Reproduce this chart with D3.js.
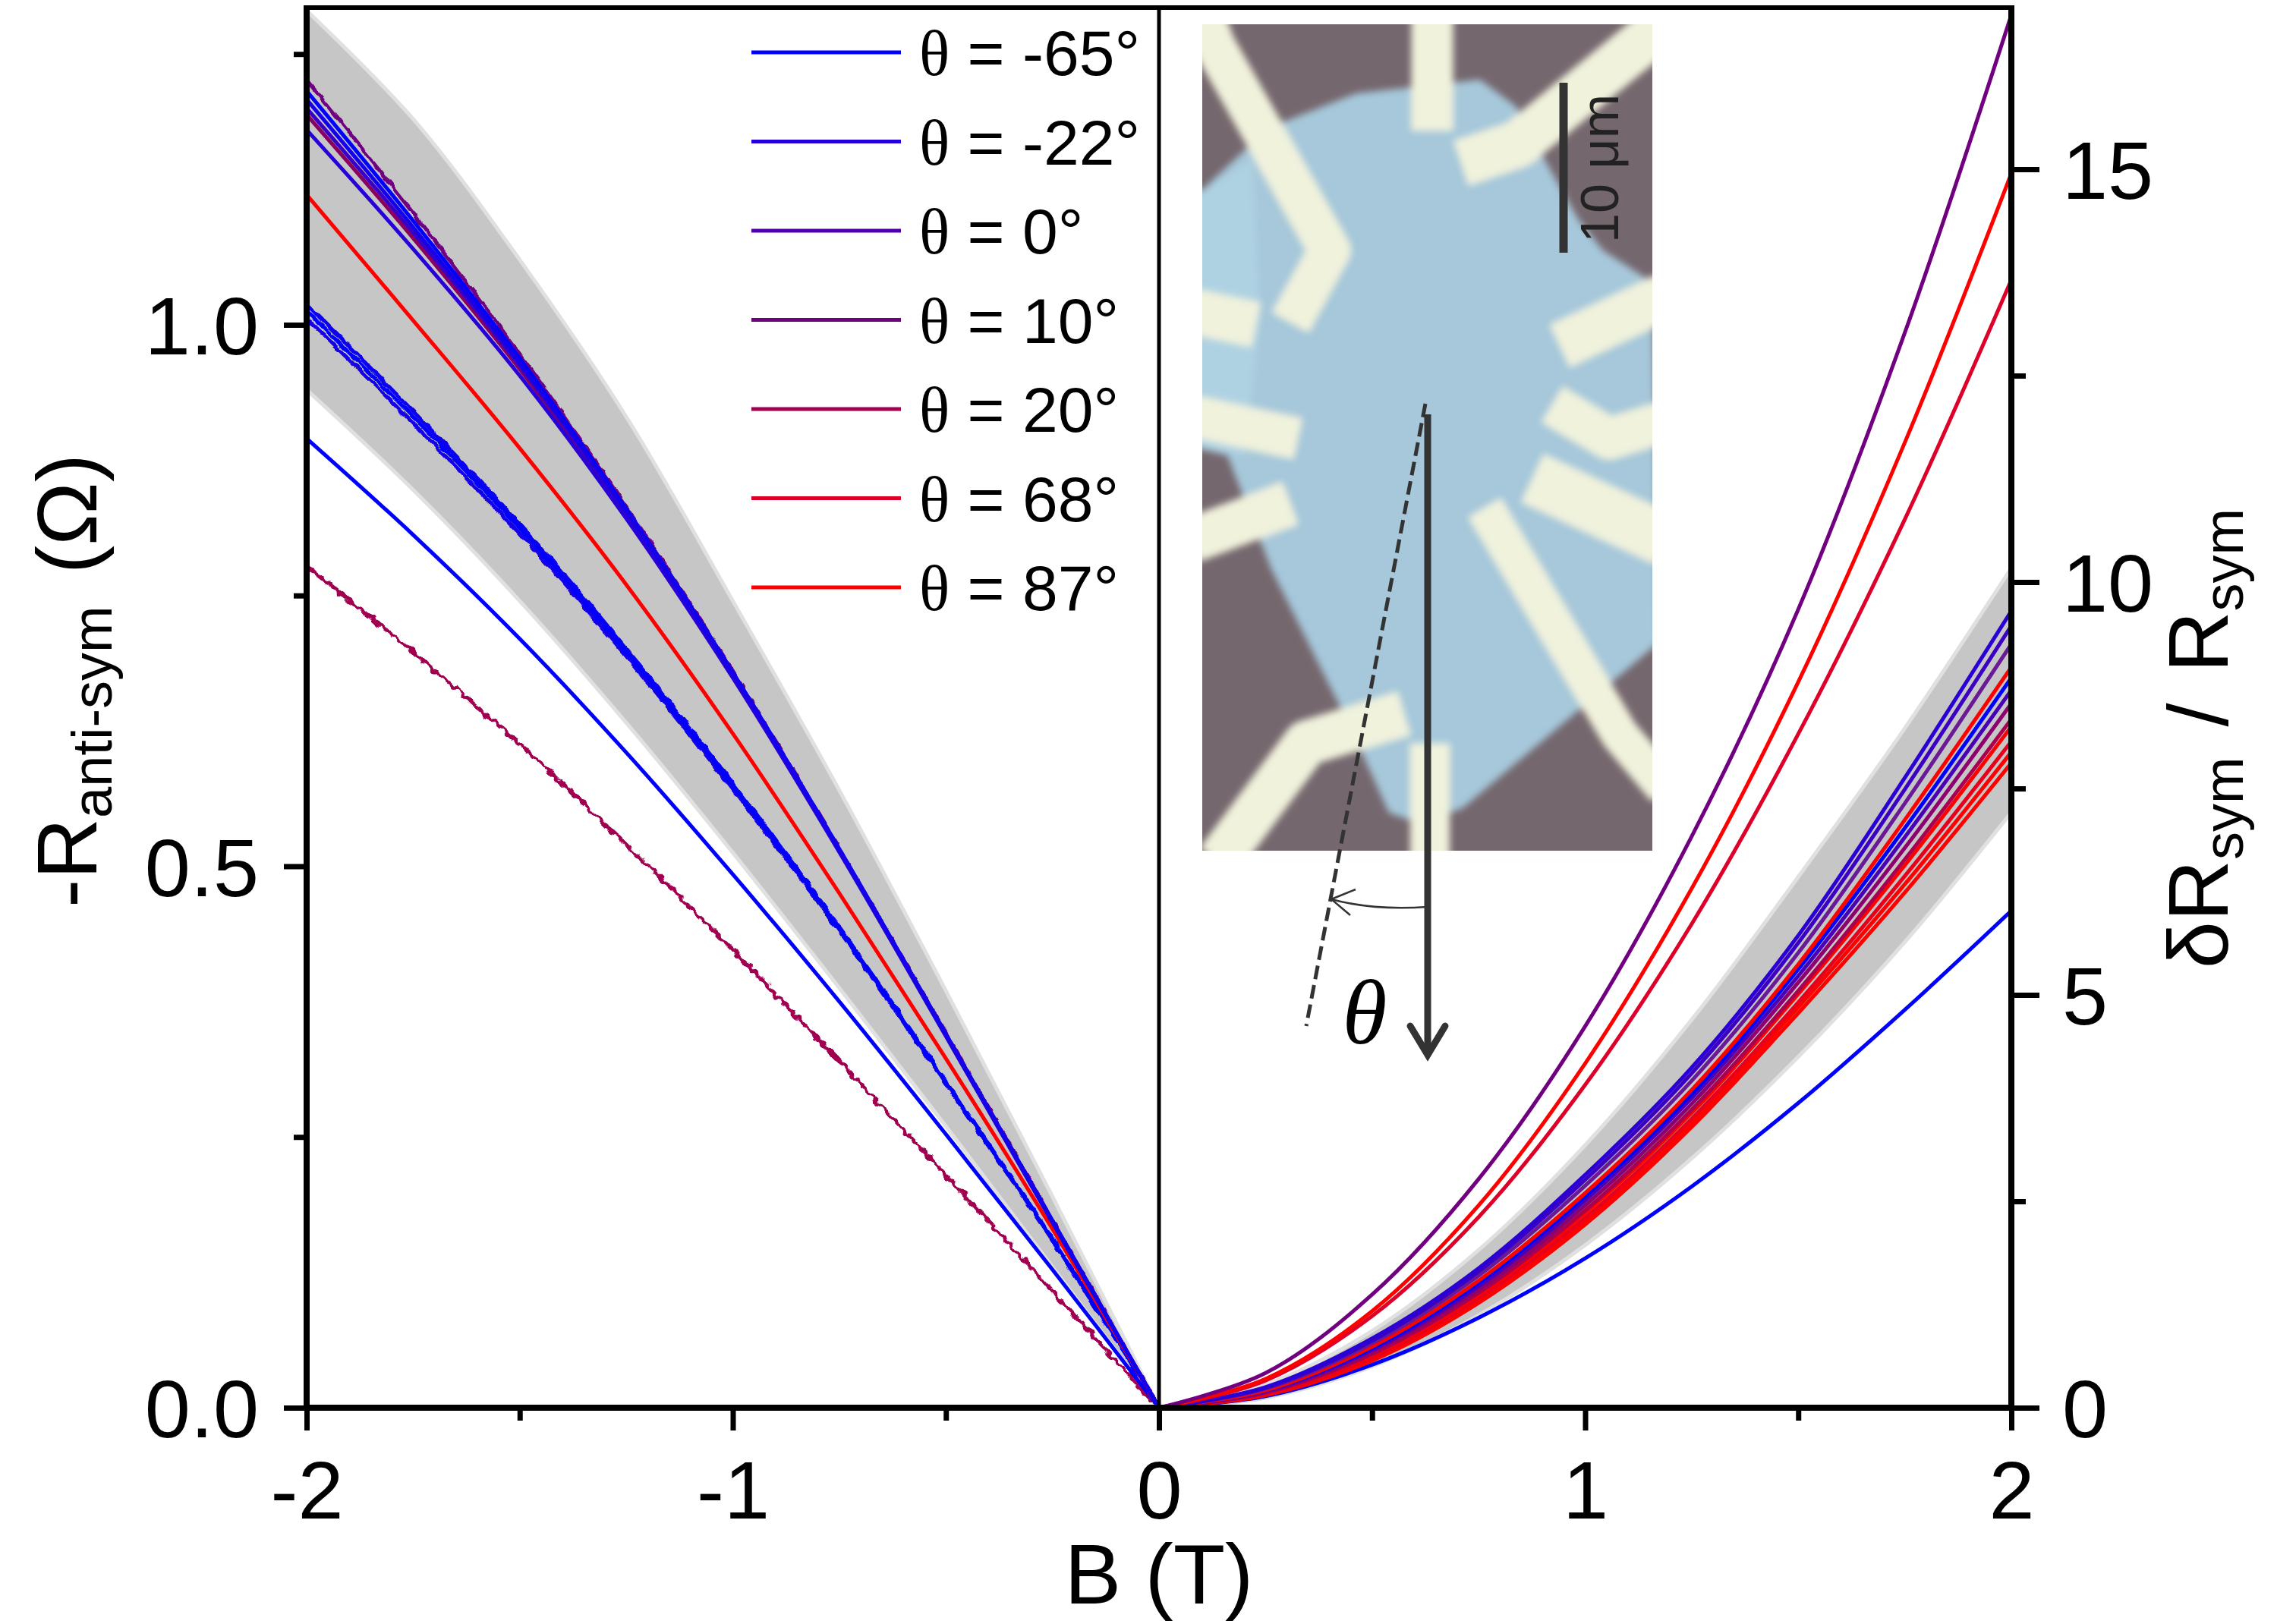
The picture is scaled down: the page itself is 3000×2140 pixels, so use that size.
<!DOCTYPE html>
<html>
<head>
<meta charset="utf-8">
<script src="https://cdn.jsdelivr.net/npm/d3@7"></script>
<style>
  body { margin: 0; background: #fff; }
  svg { display: block; }
</style>
</head>
<body>
<svg id="fig" width="3000" height="2140"></svg>
<script>
const bNeg = [-2, -1.75, -1.5, -1.25, -1, -0.75, -0.5, -0.25, 0];
const bPos = [0, 0.25, 0.5, 0.75, 1, 1.25, 1.5, 1.75, 2];

const xMajor = [-2, -1, 0, 1, 2];
const xMinor = [-1.5, -0.5, 0.5, 1.5];
const yLeftMajor = [0, 0.5, 1.0];
const yLeftMinor = [0.25, 0.75, 1.25];
const yRightMajor = [0, 5, 10, 15];
const yRightMinor = [2.5, 7.5, 12.5];

const legendLabels = ['-65°', '-22°', '0°', '10°', '20°', '68°', '87°'];
const legendColors = ['#0000ff', '#2200dd', '#5000b0', '#70007f', '#a0004f', '#dd0028', '#ff0000'];

// Left half: -R_anti-sym (Ω) at bNeg
const bandNegUpper = [1.29, 1.19, 1.06, 0.915, 0.745, 0.57, 0.385, 0.195, 0];
const bandNegLower = [0.94, 0.8475, 0.745, 0.6325, 0.5125, 0.3875, 0.26, 0.13, 0];
const anti20 = [0.7775, 0.6975, 0.6125, 0.52, 0.4225, 0.32, 0.215, 0.1075, 0];
const antiM65 = [0.895, 0.806, 0.71, 0.605, 0.4925, 0.375, 0.2525, 0.1275, 0];
const antiBundleA = [1.019, 0.920, 0.816, 0.701, 0.576, 0.444, 0.301, 0.156, 0];
const antiBundleB = [1.013, 0.915, 0.812, 0.698, 0.574, 0.442, 0.300, 0.155, 0];
const antiBundleC = [1.006, 0.909, 0.807, 0.694, 0.571, 0.440, 0.299, 0.154, 0];
const anti87 = [1.12, 1.004, 0.886, 0.76, 0.6225, 0.475, 0.3225, 0.165, 0];
const antiTopA = [1.226, 1.103, 0.973, 0.832, 0.680, 0.516, 0.346, 0.173, 0];
const antiTopB = [1.216, 1.096, 0.969, 0.830, 0.679, 0.516, 0.345, 0.173, 0];
const antiTopC = [1.208, 1.090, 0.965, 0.828, 0.678, 0.515, 0.345, 0.172, 0];
const antiTopD = [1.200, 1.085, 0.962, 0.826, 0.677, 0.515, 0.344, 0.172, 0];
const antiTopE = [1.194, 1.080, 0.959, 0.824, 0.676, 0.514, 0.344, 0.172, 0];
const antiTopF = [1.180, 1.070, 0.953, 0.821, 0.674, 0.513, 0.343, 0.171, 0];

// Right half: δR_sym / R_sym at bPos
const bandPosUpper = [0, 0.28, 0.93, 1.91, 3.18, 4.70, 6.43, 8.23, 10.17];
const bandPosLower = [0, 0.12, 0.50, 1.12, 1.97, 3.02, 4.25, 5.64, 7.21];
const symM65 = [0, 0.14, 0.52, 1.09, 1.81, 2.68, 3.69, 4.82, 6.02];
const symC01 = [0, 0.25, 0.84, 1.69, 2.82, 4.12, 5.72, 7.63, 9.65];
const symC02 = [0, 0.24, 0.81, 1.65, 2.76, 4.05, 5.63, 7.49, 9.47];
const symC03 = [0, 0.23, 0.78, 1.60, 2.69, 3.96, 5.51, 7.32, 9.25];
const symC04 = [0, 0.21, 0.74, 1.54, 2.60, 3.85, 5.37, 7.12, 8.97];
const symC05 = [0, 0.21, 0.72, 1.51, 2.56, 3.80, 5.31, 7.02, 8.84];
const symC06 = [0, 0.20, 0.70, 1.47, 2.51, 3.75, 5.23, 6.91, 8.69];
const symC07 = [0, 0.19, 0.68, 1.43, 2.45, 3.68, 5.15, 6.78, 8.53];
const symC08 = [0, 0.18, 0.65, 1.39, 2.39, 3.61, 5.05, 6.64, 8.34];
const symC09 = [0, 0.17, 0.64, 1.37, 2.36, 3.57, 5.01, 6.57, 8.25];
const symC10 = [0, 0.16, 0.61, 1.33, 2.30, 3.50, 4.91, 6.44, 8.07];
const symC11 = [0, 0.16, 0.59, 1.30, 2.26, 3.45, 4.85, 6.34, 7.94];
const symC12 = [0, 0.15, 0.57, 1.27, 2.22, 3.40, 4.78, 6.24, 7.81];
const symHighA = [0, 0.33, 1.11, 2.31, 3.91, 5.86, 8.16, 10.76, 13.66];
const symHighB = [0, 0.35, 1.17, 2.45, 4.17, 6.29, 8.79, 11.69, 14.95];
const symHighC = [0, 0.42, 1.37, 2.77, 4.62, 6.92, 9.67, 13.02, 16.87];

const antiSeries = [
	{ v: anti20, color: '#a0004f', noise: 'jitter-strong' },
	{ v: antiM65, color: '#0000ff' },
	{ v: antiBundleC, color: '#1800e5', noise: 'jitter' },
	{ v: antiBundleA, color: '#0a00f0', noise: 'jitter' },
	{ v: antiBundleB, color: '#0000ff', noise: 'jitter' },
	{ v: anti87, color: '#ff0000' },
	{ v: antiTopA, color: '#70007f', noise: 'jitter' },
	{ v: antiTopE, color: '#880060' },
	{ v: antiTopD, color: '#3a00c5' },
	{ v: antiTopF, color: '#2800d8' },
	{ v: antiTopB, color: '#0000ff' },
	{ v: antiTopC, color: '#1400ea' }
];
const symSeries = [
	{ v: symM65, color: '#0000ff' },
	{ v: symC12, color: '#ff0000' },
	{ v: symC11, color: '#ff0000' },
	{ v: symC10, color: '#e8001a' },
	{ v: symC09, color: '#ff0000' },
	{ v: symC08, color: '#aa0050' },
	{ v: symC07, color: '#8c0070' },
	{ v: symC06, color: '#4a00b5' },
	{ v: symC05, color: '#0000ff' },
	{ v: symC04, color: '#ff0000' },
	{ v: symC03, color: '#6a1a95' },
	{ v: symC02, color: '#3c00c3' },
	{ v: symC01, color: '#2a00d5' },
	{ v: symHighA, color: '#dd0028' },
	{ v: symHighB, color: '#ff0000' },
	{ v: symHighC, color: '#70007f' }
];

const svg = d3.select('#fig');
const sans = "'Liberation Sans', Arial, sans-serif";
const serif = "'Liberation Serif', 'Times New Roman', serif";
const plot = { left: 404, right: 2650, top: 10, bottom: 1855 };

const x = d3.scaleLinear().domain([-2, 2]).range([plot.left, plot.right]);
const yL = d3.scaleLinear().domain([0, 1.2929]).range([plot.bottom, plot.top]);
const yR = d3.scaleLinear().domain([0, 16.958]).range([plot.bottom, plot.top]);

const defs = svg.append('defs');
defs.append('clipPath').attr('id', 'plot-clip')
	.append('rect')
	.attr('x', plot.left).attr('y', plot.top)
	.attr('width', plot.right - plot.left).attr('height', plot.bottom - plot.top);
// slight jitter for the noisier measured traces
[['jitter', 7, 0.09], ['jitter-strong', 12, 0.12]].forEach(([id, scale, freq]) => {
	const f = defs.append('filter').attr('id', id)
		.attr('filterUnits', 'userSpaceOnUse').attr('x', 0).attr('y', 0).attr('width', 3000).attr('height', 2140);
	f.append('feTurbulence').attr('type', 'fractalNoise').attr('baseFrequency', freq).attr('numOctaves', 1).attr('seed', 3).attr('result', 'n');
	f.append('feDisplacementMap').attr('in', 'SourceGraphic').attr('in2', 'n').attr('scale', scale)
		.attr('xChannelSelector', 'R').attr('yChannelSelector', 'G');
});

const curve = d3.curveCatmullRom.alpha(0.5);
const g = svg.append('g').attr('clip-path', 'url(#plot-clip)');

// Grey uncertainty bands
const bandNeg = bNeg.map((b, i) => ({ b, lo: bandNegLower[i], hi: bandNegUpper[i] }));
const bandPos = bPos.map((b, i) => ({ b, lo: bandPosLower[i], hi: bandPosUpper[i] }));
g.append('path')
	.attr('d', d3.area().curve(curve).x(d => x(d.b)).y0(d => yL(d.lo)).y1(d => yL(d.hi))(bandNeg))
	.attr('fill', '#c6c6c6').attr('stroke', '#e0e0e0').attr('stroke-width', 5);
g.append('path')
	.attr('d', d3.area().curve(curve).x(d => x(d.b)).y0(d => yR(d.lo)).y1(d => yR(d.hi))(bandPos))
	.attr('fill', '#c6c6c6').attr('stroke', '#e0e0e0').attr('stroke-width', 5);

// Curves
const lineNeg = d3.line().curve(curve).x((v, i) => x(bNeg[i])).y(v => yL(v));
const linePos = d3.line().curve(curve).x((v, i) => x(bPos[i])).y(v => yR(v));
antiSeries.forEach(s => {
	g.append('g').attr('filter', s.noise ? 'url(#' + s.noise + ')' : null)
		.append('path').attr('d', lineNeg(s.v))
		.attr('fill', 'none').attr('stroke', s.color).attr('stroke-width', 5);
});
symSeries.forEach(s => {
	g.append('path').attr('d', linePos(s.v))
		.attr('fill', 'none').attr('stroke', s.color).attr('stroke-width', 5);
});

// Inset: optical image of the device (drawn approximation)
const photo = { x: 1584, y: 32, w: 593, h: 1089 };
defs.append('clipPath').attr('id', 'photo-clip').append('rect')
	.attr('x', photo.x).attr('y', photo.y).attr('width', photo.w).attr('height', photo.h);
defs.append('filter').attr('id', 'soft').attr('x', '-5%').attr('y', '-5%').attr('width', '110%').attr('height', '110%')
	.append('feGaussianBlur').attr('stdDeviation', 5);
const ph = svg.append('g').attr('clip-path', 'url(#photo-clip)');
ph.append('rect').attr('x', photo.x).attr('y', photo.y).attr('width', photo.w).attr('height', photo.h)
	.attr('fill', '#75676e');
const phs = ph.append('g').attr('filter', 'url(#soft)');
const flake = [[1584, 250], [1672, 168], [1787, 123], [1950, 105], [1997, 140], [2031, 203], [2080, 290],
	[2112, 330], [2177, 372], [2185, 847], [1927, 1065], [1870, 1085], [1830, 1071], [1778, 956],
	[1675, 750], [1617, 600], [1575, 590], [1575, 250]];
phs.append('path').attr('d', d3.line()(flake) + 'Z').attr('fill', '#a6c8da');
phs.append('path').attr('d', d3.line()([[1575, 260], [1650, 210], [1660, 420], [1640, 600], [1575, 590]]) + 'Z')
	.attr('fill', '#b4d6e6').attr('opacity', 0.7);
const electrodes = [
	{ p: [[1887, 20], [1887, 172]], w: 55 },
	{ p: [[1585, 20], [1600, 60], [1752, 330], [1700, 425]], w: 55 },
	{ p: [[2195, 30], [2000, 190], [1925, 215]], w: 62 },
	{ p: [[1570, 410], [1655, 428]], w: 60 },
	{ p: [[2055, 456], [2195, 390]], w: 62 },
	{ p: [[2045, 533], [2120, 578], [2195, 555]], w: 55 },
	{ p: [[1570, 548], [1710, 578]], w: 55 },
	{ p: [[1570, 712], [1700, 663]], w: 60 },
	{ p: [[1956, 669], [2134, 968], [2195, 1040]], w: 50 },
	{ p: [[2019, 630], [2195, 712]], w: 70 },
	{ p: [[1884, 980], [1884, 1135]], w: 52 },
	{ p: [[1605, 1135], [1721, 979], [1850, 940]], w: 60 }
];
electrodes.forEach(e => {
	phs.append('path').attr('d', d3.line()(e.p))
		.attr('fill', 'none').attr('stroke', '#f0f2dc').attr('stroke-width', e.w)
		.attr('stroke-linejoin', 'round');
});

// Scale bar
svg.append('line').attr('x1', 2060).attr('x2', 2060).attr('y1', 109).attr('y2', 333)
	.attr('stroke', '#333').attr('stroke-width', 11);
svg.append('text').attr('transform', 'translate(2132,222) rotate(-90)')
	.attr('text-anchor', 'middle').attr('font-family', sans).attr('font-size', 70).attr('fill', '#222')
	.text('10 μm');

// Angle annotation
const ink = '#333';
svg.append('line').attr('x1', 1878).attr('y1', 532).attr('x2', 1721).attr('y2', 1352)
	.attr('stroke', ink).attr('stroke-width', 5).attr('stroke-dasharray', '18 8');
svg.append('line').attr('x1', 1881).attr('y1', 546).attr('x2', 1881).attr('y2', 1388)
	.attr('stroke', ink).attr('stroke-width', 9);
svg.append('path').attr('d', 'M1858,1352 L1881,1390 L1904,1352')
	.attr('fill', 'none').attr('stroke', ink).attr('stroke-width', 9).attr('stroke-linecap', 'round');
svg.append('path').attr('d', 'M1881,1195 Q1810,1200 1754,1185')
	.attr('fill', 'none').attr('stroke', ink).attr('stroke-width', 2.5);
svg.append('path').attr('d', 'M1786,1172 L1754,1185 L1779,1206')
	.attr('fill', 'none').attr('stroke', ink).attr('stroke-width', 2.5);
svg.append('text').attr('x', 1798).attr('y', 1375).attr('text-anchor', 'middle')
	.attr('font-family', serif).attr('font-style', 'italic').attr('font-size', 120).attr('fill', '#000')
	.text('θ');

// Axes
const tickStyle = (ax, size) => {
	ax.select('.domain').remove();
	ax.selectAll('line').attr('stroke', '#000').attr('stroke-width', 7);
	ax.selectAll('text').attr('font-family', sans).attr('font-size', size).attr('fill', '#000');
};
svg.append('g').attr('transform', 'translate(0,' + plot.bottom + ')')
	.call(d3.axisBottom(x).tickValues(xMajor).tickSize(30).tickFormat(d => String(d)))
	.call(ax => tickStyle(ax, 108))
	.call(ax => ax.selectAll('text').attr('y', 146).attr('dy', 0));
svg.append('g').attr('transform', 'translate(0,' + plot.bottom + ')')
	.call(d3.axisBottom(x).tickValues(xMinor).tickSize(17).tickFormat(''))
	.call(ax => tickStyle(ax, 108));
svg.append('g').attr('transform', 'translate(' + plot.left + ',0)')
	.call(d3.axisLeft(yL).tickValues(yLeftMajor).tickSize(30).tickPadding(33).tickFormat(d3.format('.1f')))
	.call(ax => tickStyle(ax, 108))
	.call(ax => ax.selectAll('text').attr('dy', '0.36em'));
svg.append('g').attr('transform', 'translate(' + plot.left + ',0)')
	.call(d3.axisLeft(yL).tickValues(yLeftMinor).tickSize(17).tickFormat(''))
	.call(ax => tickStyle(ax, 108));
svg.append('g').attr('transform', 'translate(' + plot.right + ',0)')
	.call(d3.axisRight(yR).tickValues(yRightMajor).tickSize(37).tickPadding(30).tickFormat(d => String(d)))
	.call(ax => tickStyle(ax, 108))
	.call(ax => ax.selectAll('text').attr('dy', '0.36em'));
svg.append('g').attr('transform', 'translate(' + plot.right + ',0)')
	.call(d3.axisRight(yR).tickValues(yRightMinor).tickSize(19).tickFormat(''))
	.call(ax => tickStyle(ax, 108));

// Frame and B = 0 divider
const frame = svg.append('g').attr('stroke', '#000');
frame.append('line').attr('x1', plot.left).attr('x2', plot.right).attr('y1', plot.top).attr('y2', plot.top).attr('stroke-width', 6);
frame.append('line').attr('x1', plot.left).attr('x2', plot.right).attr('y1', plot.bottom).attr('y2', plot.bottom).attr('stroke-width', 8);
frame.append('line').attr('x1', plot.left).attr('x2', plot.left).attr('y1', plot.top - 3).attr('y2', plot.bottom + 4).attr('stroke-width', 8);
frame.append('line').attr('x1', plot.right).attr('x2', plot.right).attr('y1', plot.top - 3).attr('y2', plot.bottom + 4).attr('stroke-width', 8);
frame.append('line').attr('x1', x(0)).attr('x2', x(0)).attr('y1', plot.top).attr('y2', plot.bottom).attr('stroke-width', 5);

// Axis titles
svg.append('text').attr('x', x(0)).attr('y', 2113).attr('text-anchor', 'middle')
	.attr('font-family', sans).attr('font-size', 112).text('B (T)');

const leftTitle = svg.append('text').attr('transform', 'translate(127,897) rotate(-90)')
	.attr('text-anchor', 'middle').attr('font-family', sans).attr('font-size', 112);
leftTitle.append('tspan').text('-R');
leftTitle.append('tspan').attr('font-size', 74).attr('dy', 20).text('anti-sym');
leftTitle.append('tspan').attr('dy', -20).attr('dx', 42).text('(Ω)');

const rightTitle = svg.append('text').attr('transform', 'translate(2935,973) rotate(-90)')
	.attr('text-anchor', 'middle').attr('font-family', sans).attr('font-size', 112);
rightTitle.append('tspan').text('δR');
rightTitle.append('tspan').attr('font-size', 74).attr('dy', 20).text('sym');
rightTitle.append('tspan').attr('dy', -20).attr('dx', 40).text('/');
rightTitle.append('tspan').attr('dx', 40).text('R');
rightTitle.append('tspan').attr('font-size', 74).attr('dy', 20).text('sym');

// Legend
const legend = svg.append('g').attr('transform', 'translate(990,69)');
legendLabels.forEach((lab, i) => {
	const row = legend.append('g').attr('transform', 'translate(0,' + (i * 117.5) + ')');
	row.append('line').attr('x1', 0).attr('x2', 197).attr('y1', 0).attr('y2', 0)
		.attr('stroke', legendColors[i]).attr('stroke-width', 5);
	const t = row.append('text').attr('x', 221).attr('dy', '0.36em')
		.attr('font-family', sans).attr('font-size', 84).attr('fill', '#000');
	t.append('tspan').attr('font-family', serif).text('θ');
	t.append('tspan').text(' = ' + lab);
});
</script>
</body>
</html>
